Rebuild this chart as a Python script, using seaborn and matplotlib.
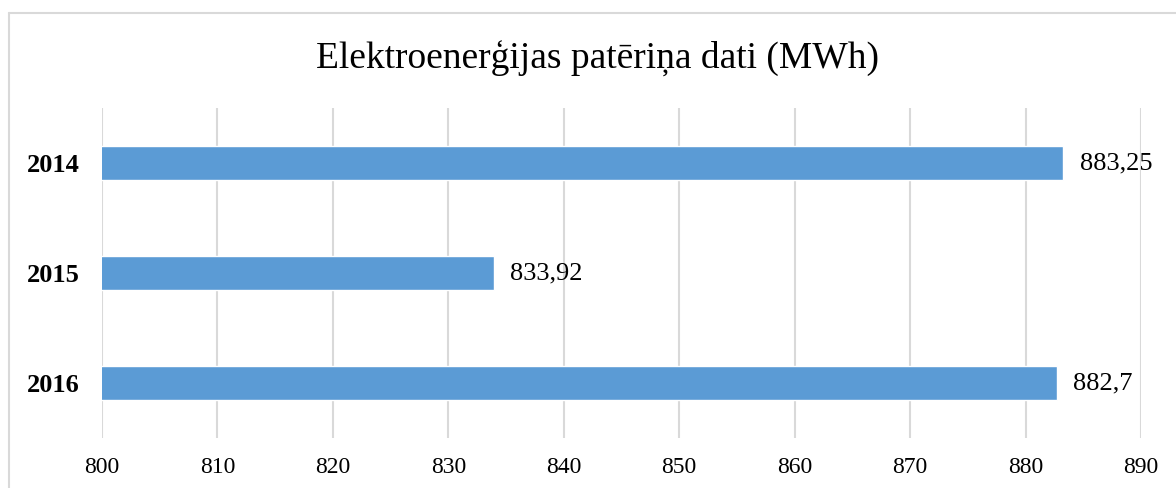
import matplotlib
matplotlib.use('Agg')
import matplotlib.pyplot as plt
from matplotlib.lines import Line2D
import seaborn as sns
import pandas as pd

years = ['2014', '2015', '2016']
consumption = [883.25, 833.92, 882.7]
value_labels = ['883,25', '833,92', '882,7']
x_ticks = [800, 810, 820, 830, 840, 850, 860, 870, 880, 890]

df = pd.DataFrame({'year': years, 'mwh': consumption})

sns.set_style('white')
plt.rcParams['font.family'] = ['Liberation Serif', 'DejaVu Serif']
plt.rcParams['text.color'] = 'black'
plt.rcParams['xtick.color'] = 'black'
plt.rcParams['ytick.color'] = 'black'

fig = plt.figure(figsize=(11.76, 4.88), dpi=100)
ax = fig.add_axes([0.0867, 0.1025, 0.8835, 0.6762])

sns.barplot(data=df, x='mwh', y='year', orient='h', color='#5B9BD5',
            saturation=1, width=0.31, ax=ax, zorder=3)

ax.set_xlim(800, 890)
ax.set_xticks(x_ticks)
ax.set_xticklabels([str(t) for t in x_ticks], fontsize=17)
ax.set_yticklabels(years, fontsize=19, fontweight='bold')
ax.tick_params(axis='both', length=0)
ax.tick_params(axis='x', pad=14)
ax.tick_params(axis='y', pad=16)
ax.grid(axis='x', color='#D9D9D9', linewidth=1.5, zorder=0)
for s in ax.spines.values():
    s.set_visible(False)
ax.set_xlabel('')
ax.set_ylabel('')

for i, (v, lab) in enumerate(zip(consumption, value_labels)):
    ax.annotate(lab, xy=(v, i), xytext=(12, 0), textcoords='offset points',
                va='center', ha='left', fontsize=19)

fig.text(0.508, 0.88, 'Elektroenerģijas patēriņa dati (MWh)',
         ha='center', va='center', fontsize=27)

# chart frame (top and left edges only visible)
fig.add_artist(Line2D([9 / 1176, 1], [1 - 13 / 488, 1 - 13 / 488],
                      color='#D9D9D9', linewidth=1.5, transform=fig.transFigure))
fig.add_artist(Line2D([9 / 1176, 9 / 1176], [0, 1 - 13 / 488],
                      color='#D9D9D9', linewidth=1.5, transform=fig.transFigure))

fig.savefig('out.png', dpi=100, facecolor='white')
